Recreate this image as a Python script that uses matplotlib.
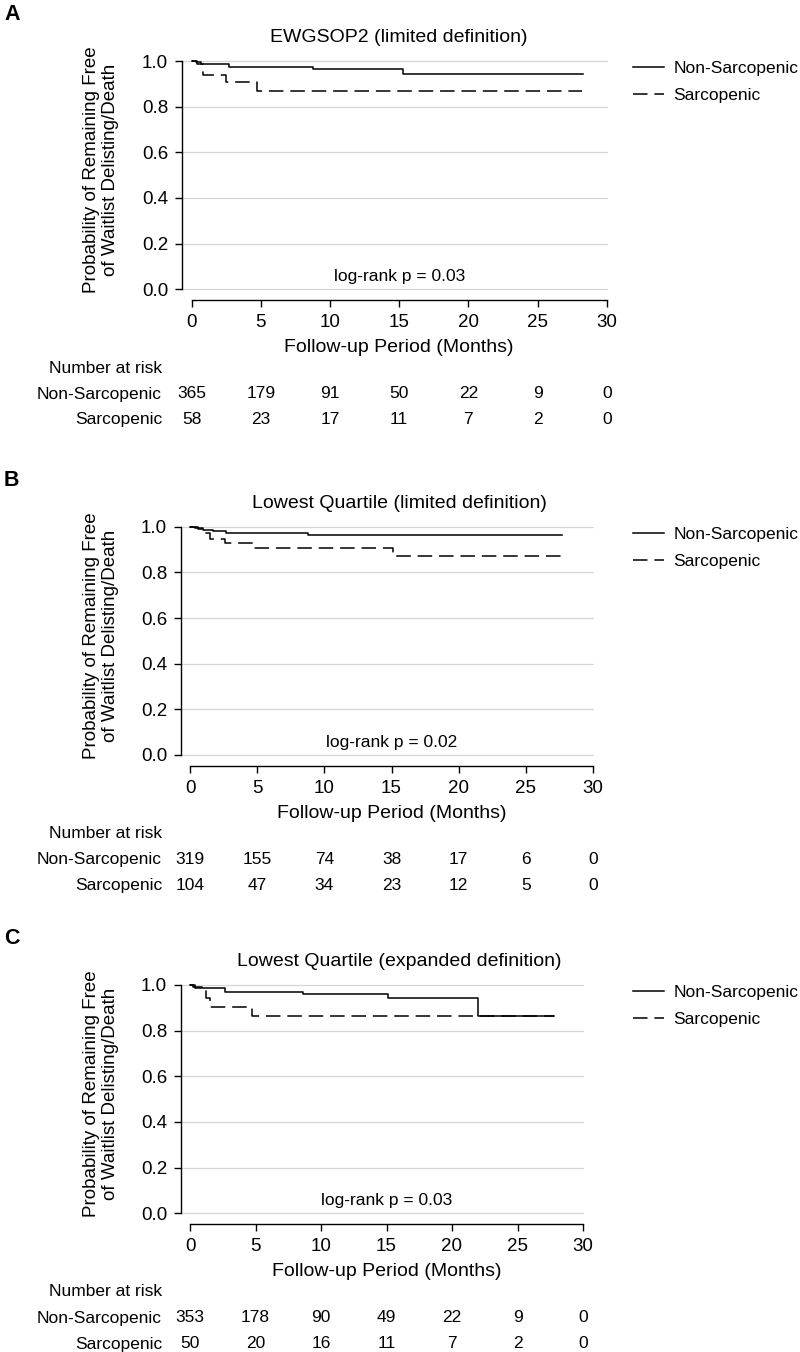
import matplotlib
matplotlib.use("Agg")
import matplotlib.pyplot as plt
import matplotlib.transforms as mtransforms
from matplotlib.lines import Line2D

plt.rcParams['font.family'] = ['Liberation Sans', 'DejaVu Sans']

# ---- data ----
titles = ["EWGSOP2 (limited definition)",
          "Lowest Quartile (limited definition)",
          "Lowest Quartile (expanded definition)"]
panel_letters = ["A", "B", "C"]
pvals = ["log-rank p = 0.03", "log-rank p = 0.02", "log-rank p = 0.03"]
groups = ["Non-Sarcopenic", "Sarcopenic"]
risk_times = [0, 5, 10, 15, 20, 25, 30]

# Kaplan-Meier step curves (time in months, survival)
A_non_t = [0, 0.3, 0.7, 1.5, 2.7, 8.8, 15.3, 28.3]
A_non_s = [1.0, 0.995, 0.989, 0.985, 0.975, 0.963, 0.943, 0.943]
A_sar_t = [0, 0.4, 0.8, 2.5, 4.75, 28.2]
A_sar_s = [1.0, 0.985, 0.940, 0.907, 0.870, 0.870]

B_non_t = [0, 0.4, 1.0, 1.7, 2.7, 8.8, 27.7]
B_non_s = [1.0, 0.993, 0.985, 0.981, 0.974, 0.964, 0.964]
B_sar_t = [0, 0.6, 1.1, 1.5, 2.6, 4.8, 15.1, 28.1]
B_sar_s = [1.0, 0.989, 0.971, 0.945, 0.930, 0.905, 0.870, 0.870]

C_non_t = [0, 0.2, 0.9, 2.7, 8.6, 15.1, 22.0, 27.8]
C_non_s = [1.0, 0.993, 0.985, 0.968, 0.961, 0.944, 0.866, 0.866]
C_sar_t = [0, 0.4, 1.2, 1.5, 4.7, 27.8]
C_sar_s = [1.0, 0.985, 0.942, 0.905, 0.866, 0.866]

# number at risk
A_risk_non = [365, 179, 91, 50, 22, 9, 0]
A_risk_sar = [58, 23, 17, 11, 7, 2, 0]
B_risk_non = [319, 155, 74, 38, 17, 6, 0]
B_risk_sar = [104, 47, 34, 23, 12, 5, 0]
C_risk_non = [353, 178, 90, 49, 22, 9, 0]
C_risk_sar = [50, 20, 16, 11, 7, 2, 0]

curves = [((A_non_t, A_non_s), (A_sar_t, A_sar_s)),
          ((B_non_t, B_non_s), (B_sar_t, B_sar_s)),
          ((C_non_t, C_non_s), (C_sar_t, C_sar_s))]
risks = [(A_risk_non, A_risk_sar), (B_risk_non, B_risk_sar), (C_risk_non, C_risk_sar)]

# ---- layout (pixels in an 800x1352 canvas) ----
W, H = 800, 1352
offsets = [0, 465.7, 924]
x0_px = [191.7, 190, 190]      # where month 0 sits
x30_px = [606.7, 593, 583]     # where month 30 sits
spine_px = [182, 181, 181]
Y1, Y0 = 61, 289.3             # prob 1.0 / 0.0 in panel A


def fx(px):
    return px / W


def fy(py):
    return 1 - py / H


fig = plt.figure(figsize=(8, 13.52), dpi=100)

dash = (9.5, 4.5)
for i in range(3):
    off = offsets[i]
    s = (x30_px[i] - x0_px[i]) / 30.0
    left = spine_px[i]
    right = x30_px[i] + 1
    yscale = Y0 - Y1
    top = Y1 + off - 0.01 * yscale
    bottom = Y0 + off + 10.7
    ax = fig.add_axes([fx(left), fy(bottom), fx(right) - fx(left), fy(top) - fy(bottom)])
    ax.set_xlim(-(x0_px[i] - left) / s, 30 + 1 / s)
    ax.set_ylim(-10.7 / yscale, 1.01)

    (nt, ns), (st, ss) = curves[i]
    ax.step(nt, ns, where='post', color='black', lw=1.1)
    ax.step(st, ss, where='post', color='black', lw=1.1, dashes=dash)

    ax.set_yticks([0, 0.2, 0.4, 0.6, 0.8, 1.0])
    ax.set_yticklabels(["0.0", "0.2", "0.4", "0.6", "0.8", "1.0"])
    ax.set_xticks(risk_times)
    ax.yaxis.grid(True, color='#d6d6d6', lw=0.9)
    ax.set_axisbelow(True)
    for sp in ['top', 'right']:
        ax.spines[sp].set_visible(False)
    ax.spines['left'].set_bounds(0, 1)
    ax.spines['bottom'].set_bounds(0, 30)
    ax.spines['left'].set_linewidth(1.0)
    ax.spines['bottom'].set_linewidth(1.0)
    ax.tick_params(axis='both', direction='out', length=5, width=1.0, labelsize=13.5, pad=5)

    tr = mtransforms.blended_transform_factory(ax.transData, fig.transFigure)
    ax.text(15, fy(276.7 + off), pvals[i], ha='center', va='center', fontsize=12.5, transform=tr)
    ax.text(15, fy(348 + off), "Follow-up Period (Months)", ha='center', va='center',
            fontsize=14, transform=tr)

    fig.text(fx(101), fy(170 + off),
             "Probability of Remaining Free\nof Waitlist Delisting/Death",
             rotation=90, ha='center', va='center', fontsize=13.5, linespacing=1.1)
    fig.text(fx(399), fy(38 + off), titles[i], ha='center', va='center', fontsize=14)
    fig.text(fx(4), fy(15 + off), panel_letters[i], ha='left', va='center',
             fontsize=15.5, fontweight='bold')

    # legend
    ax.legend(handles=[Line2D([], [], color='black', lw=1.1),
                       Line2D([], [], color='black', lw=1.1, dashes=dash)],
              labels=groups, loc='center left',
              bbox_to_anchor=(fx(632.7), fy(82 + off)), bbox_transform=fig.transFigure,
              frameon=False, fontsize=12.5, handlelength=1.8, handletextpad=0.55,
              labelspacing=0.68, borderpad=0, borderaxespad=0)

    # number at risk table
    fig.text(fx(162), fy(368 + off), "Number at risk", ha='right', va='center', fontsize=12.5)
    row_y = [394, 420]
    for g in range(2):
        fig.text(fx(162), fy(row_y[g] + off), groups[g], ha='right', va='center', fontsize=12.5)
        for t, n in zip(risk_times, risks[i][g]):
            ax.text(t, fy(row_y[g] + off), str(n), ha='center', va='center',
                    fontsize=12.5, transform=tr)

fig.savefig("out.png", dpi=100)
